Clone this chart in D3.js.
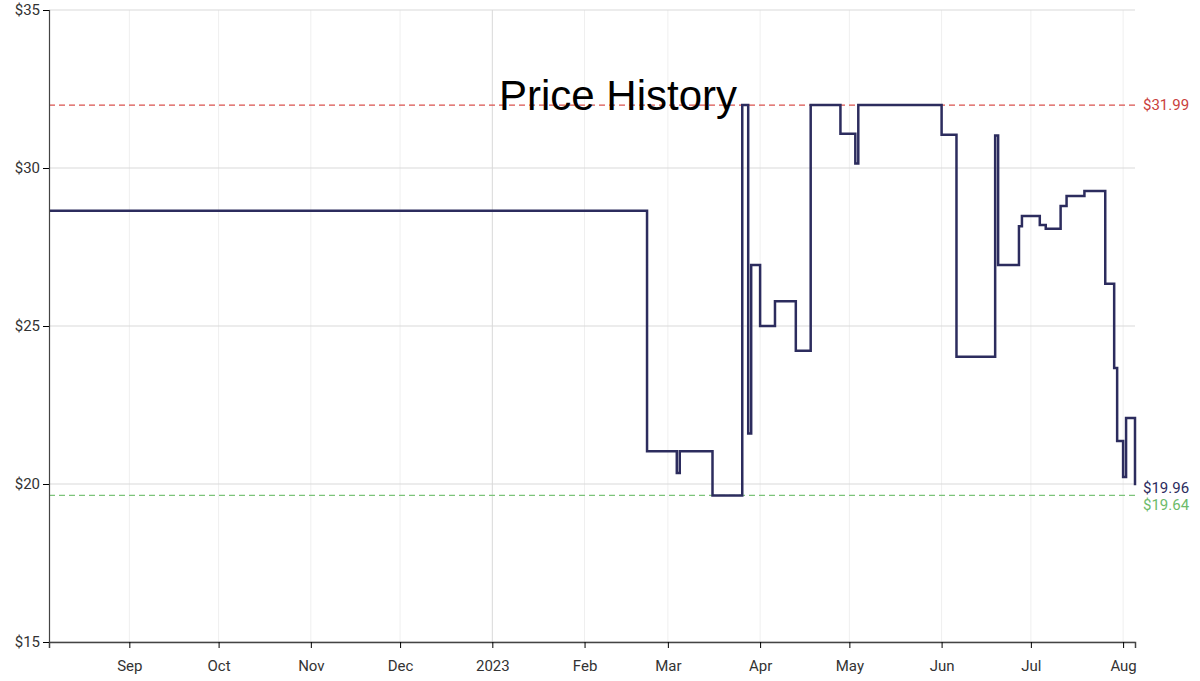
<!DOCTYPE html>
<html>
<head>
<meta charset="utf-8">
<script src="https://cdn.jsdelivr.net/npm/d3@7"></script>
<style>
body { margin: 0; background: #fff; }
text { font-family: Roboto, sans-serif; }
</style>
</head>
<body>
<svg id="chart" width="1200" height="681"></svg>
<script>
// price steps: [date, price], each holds until the next
const stepDates = ["2022-08-05","2023-02-22","2023-03-04","2023-03-05","2023-03-16","2023-03-26","2023-03-28","2023-03-29","2023-04-01","2023-04-06","2023-04-13","2023-04-18","2023-04-28","2023-05-03","2023-05-04","2023-06-01","2023-06-06","2023-06-19","2023-06-20","2023-06-27","2023-06-28","2023-07-04","2023-07-06","2023-07-11","2023-07-13","2023-07-19","2023-07-26","2023-07-29","2023-07-30","2023-08-01","2023-08-02","2023-08-05"];
const stepPrices = [28.65,21.04,20.35,21.04,19.64,31.99,21.6,26.93,25.0,25.78,24.22,31.99,31.08,30.14,31.99,31.05,24.03,31.03,26.93,28.16,28.48,28.2,28.08,28.8,29.11,29.27,26.34,23.67,21.36,20.22,22.09,19.96];
const yTicks = [15,20,25,30,35];
const highPrice = 31.99, lowPrice = 19.64, lastPrice = 19.96;

const parse = d3.timeParse("%Y-%m-%d");
const data = stepDates.map((d,i)=>({date: parse(d), value: stepPrices[i]}));

const svg = d3.select("#chart");
const mLeft = 49, mRight = 1135, mTop = 10, mBottom = 642;

const x = d3.scaleTime().domain([parse("2022-08-05"), parse("2023-08-05")]).range([mLeft, mRight]);
const y = d3.scaleLinear().domain([15,35]).range([mBottom, mTop]);

const months = d3.timeMonth.range(parse("2022-09-01"), parse("2023-08-02"));

// grid
svg.append("g").selectAll("line").data(months).join("line")
  .attr("x1", d=>x(d)).attr("x2", d=>x(d)).attr("y1", mTop).attr("y2", mBottom)
  .attr("stroke", d=>d.getMonth()===0 ? "#d8d8d8" : "#efefef").attr("stroke-width", 1);
svg.append("g").selectAll("line").data(yTicks).join("line")
  .attr("x1", mLeft).attr("x2", mRight).attr("y1", d=>y(d)).attr("y2", d=>y(d))
  .attr("stroke", "#d9d9d9");

// reference lines
svg.append("line").attr("x1", mLeft).attr("x2", mRight).attr("y1", y(highPrice)).attr("y2", y(highPrice))
  .attr("stroke", "#d9534f").attr("stroke-dasharray", "6,4").attr("stroke-width", 1.3);
svg.append("line").attr("x1", mLeft).attr("x2", mRight).attr("y1", y(lowPrice)).attr("y2", y(lowPrice))
  .attr("stroke", "#7cc47a").attr("stroke-dasharray", "6,4").attr("stroke-width", 1.3);

// title
svg.append("text").attr("x", 618).attr("y", 110).attr("text-anchor", "middle")
  .style("font-family", "Liberation Sans, Arial, sans-serif").style("font-size", "42px").attr("fill", "#000")
  .text("Price History");

// price line
svg.append("path").datum(data)
  .attr("fill", "none").attr("stroke", "#2c2c5e").attr("stroke-width", 2.5)
  .attr("d", d3.line().curve(d3.curveStepAfter).x(d=>x(d.date)).y(d=>y(d.value)));

// axes
const fmt = d3.timeFormat("%b");
svg.append("g").attr("transform", `translate(0,${mBottom})`)
  .call(d3.axisBottom(x).tickValues(months).tickSizeOuter(0).tickSize(6).tickPadding(12)
    .tickFormat(d=>d.getMonth()===0 ? d.getFullYear() : fmt(d)))
  .call(g=>g.select(".domain").attr("stroke", "#444").attr("stroke-width", 1.5))
  .call(g=>g.selectAll("text").style("font-size", "15px").attr("fill", "#333"));
svg.append("g").attr("transform", `translate(${mLeft},0)`)
  .call(d3.axisLeft(y).tickValues(yTicks).tickSizeOuter(0).tickSize(6).tickFormat(d=>"$"+d))
  .call(g=>g.select(".domain").attr("stroke", "#444").attr("stroke-width", 1.2))
  .call(g=>g.selectAll("text").style("font-size", "15px").attr("fill", "#333"));

// right labels
const labels = [[highPrice, y(highPrice)+5, "#c9413d"], [lastPrice, 493, "#2c2c5e"], [lowPrice, 510, "#6dbb6b"]];
svg.append("g").selectAll("text").data(labels).join("text")
  .attr("x", 1143).attr("y", d=>d[1]).attr("fill", d=>d[2]).style("font-size", "15px")
  .text(d=>"$"+d[0].toFixed(2));
</script>
</body>
</html>
